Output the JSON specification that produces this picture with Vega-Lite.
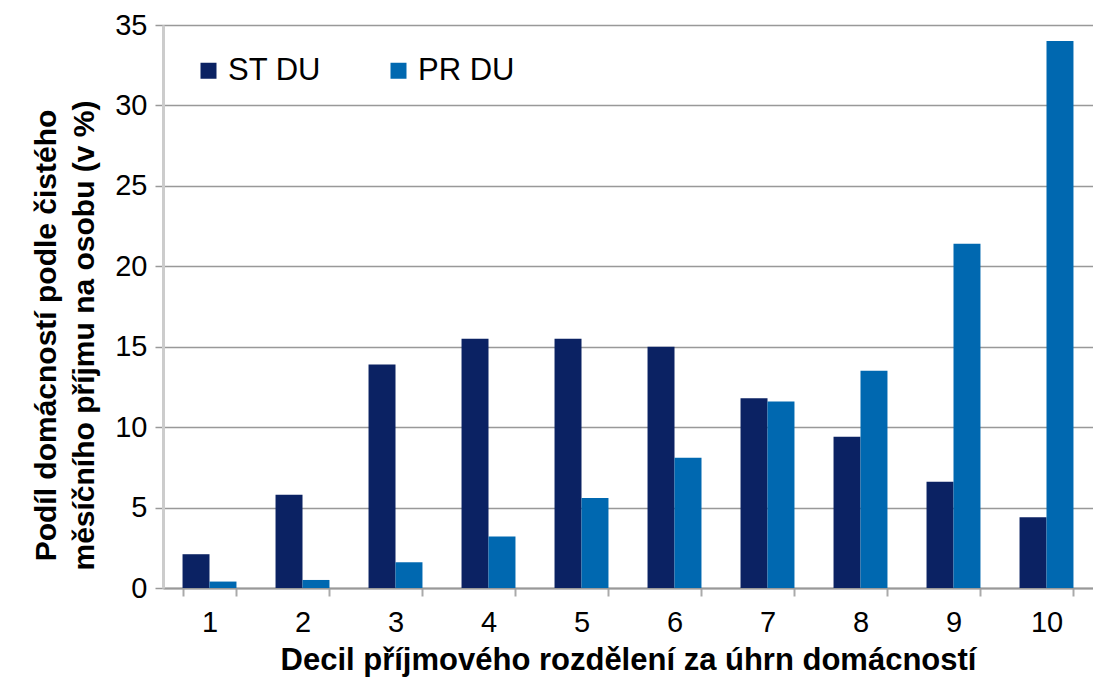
{
  "$schema": "https://vega.github.io/schema/vega-lite/v6.json",
  "width": 930,
  "height": 563,
  "autosize": {"type": "none"},
  "padding": {"left": 163, "top": 25, "right": 0, "bottom": 96},
  "background": "white",
  "config": {
    "font": "Liberation Sans",
    "view": {"stroke": null}
  },
  "data": {
    "values": [
      {"decil": "1", "serie": "ST DU", "podil": 2.1},
      {"decil": "1", "serie": "PR DU", "podil": 0.4},
      {"decil": "2", "serie": "ST DU", "podil": 5.8},
      {"decil": "2", "serie": "PR DU", "podil": 0.5},
      {"decil": "3", "serie": "ST DU", "podil": 13.9},
      {"decil": "3", "serie": "PR DU", "podil": 1.6},
      {"decil": "4", "serie": "ST DU", "podil": 15.5},
      {"decil": "4", "serie": "PR DU", "podil": 3.2},
      {"decil": "5", "serie": "ST DU", "podil": 15.5},
      {"decil": "5", "serie": "PR DU", "podil": 5.6},
      {"decil": "6", "serie": "ST DU", "podil": 15.0},
      {"decil": "6", "serie": "PR DU", "podil": 8.1},
      {"decil": "7", "serie": "ST DU", "podil": 11.8},
      {"decil": "7", "serie": "PR DU", "podil": 11.6},
      {"decil": "8", "serie": "ST DU", "podil": 9.4},
      {"decil": "8", "serie": "PR DU", "podil": 13.5},
      {"decil": "9", "serie": "ST DU", "podil": 6.6},
      {"decil": "9", "serie": "PR DU", "podil": 21.4},
      {"decil": "10", "serie": "ST DU", "podil": 4.4},
      {"decil": "10", "serie": "PR DU", "podil": 34.0}
    ]
  },
  "mark": {"type": "bar"},
  "encoding": {
    "x": {
      "field": "decil",
      "type": "nominal",
      "sort": ["1","2","3","4","5","6","7","8","9","10"],
      "scale": {"paddingInner": 0.42, "paddingOuter": 0.21},
      "axis": {
        "title": "Decil příjmového rozdělení za úhrn domácností",
        "titleFont": "Liberation Sans",
        "titleFontSize": 31,
        "titleFontWeight": "bold",
        "titleColor": "black",
        "titlePadding": 8,
        "labelAngle": 0,
        "labelFontSize": 29,
        "labelColor": "black",
        "labelPadding": 12,
        "tickBand": "extent",
        "tickColor": "#aaaaaa",
        "tickSize": 8,
        "tickWidth": 2,
        "domainColor": "#999999",
        "domainWidth": 2,
        "grid": false
      }
    },
    "xOffset": {"field": "serie", "type": "nominal", "sort": ["ST DU", "PR DU"]},
    "y": {
      "field": "podil",
      "type": "quantitative",
      "scale": {"domain": [0, 35], "nice": false},
      "axis": {
        "title": ["Podíl domácností podle čistého", "měsíčního příjmu na osobu (v %)"],
        "titleFont": "Liberation Sans",
        "titleFontSize": 30,
        "titleFontWeight": "bold",
        "titleColor": "black",
        "titleLineHeight": 38,
        "titlePadding": 15,
        "titleY": 310,
        "values": [0, 5, 10, 15, 20, 25, 30, 35],
        "labelFontSize": 29,
        "labelColor": "black",
        "labelPadding": 8,
        "tickColor": "#999999",
        "tickSize": 8,
        "tickWidth": 1.5,
        "domainColor": "#cccccc",
        "domainWidth": 3,
        "grid": true,
        "gridColor": "#999999",
        "gridWidth": 1.5
      }
    },
    "color": {
      "field": "serie",
      "type": "nominal",
      "sort": ["ST DU", "PR DU"],
      "scale": {"domain": ["ST DU", "PR DU"], "range": ["#0b2263", "#0068b0"]},
      "legend": {
        "title": null,
        "orient": "none",
        "legendX": 30,
        "legendY": 30,
        "direction": "horizontal",
        "symbolType": "square",
        "symbolSize": 256,
        "symbolStrokeWidth": 0,
        "labelFontSize": 31,
        "labelColor": "black",
        "labelOffset": 4,
        "columnPadding": 62
      }
    }
  }
}
